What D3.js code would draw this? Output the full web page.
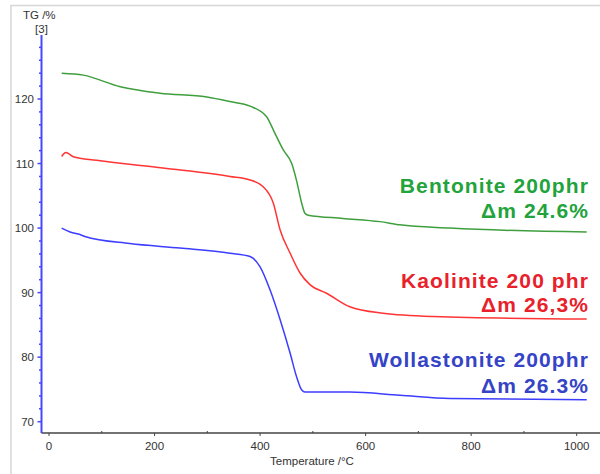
<!DOCTYPE html>
<html>
<head>
  <meta charset="UTF-8">
  <style>
    body { margin: 0; background: #fff; }
    svg { display: block; font-family: "Liberation Sans", Arial, sans-serif; }
  </style>
</head>
<body>
<svg></svg>
<script src="https://d3js.org/d3.v7.min.js"></script>
<script>

let width = 600, height = 474;

// temperature (°C) / mass (%)
let bentoniteT = [24, 65, 135, 210, 299, 343, 381, 412, 428, 444, 460, 469, 479, 485, 491, 557, 627, 665, 760, 1019];
let bentoniteM = [124.0, 123.7, 121.9, 120.9, 120.3, 119.6, 118.9, 117.3, 114.7, 112.1, 110.0, 107.4, 103.8, 102.3, 102.0, 101.5, 101.0, 100.5, 100.0, 99.4];

let kaoliniteT = [24, 32, 46, 90, 216, 343, 381, 406, 425, 438, 457, 476, 495, 526, 570, 633, 728, 1019];
let kaoliniteM = [111.1, 111.7, 111.06, 110.5, 109.3, 108.0, 107.45, 106.4, 103.9, 99.7, 96.1, 93.0, 91.2, 89.9, 87.8, 86.8, 86.3, 85.9];

let wollastoniteT = [24, 40, 62, 68, 153, 248, 343, 381, 400, 419, 438, 457, 469, 479, 485, 570, 665, 760, 1019];
let wollastoniteM = [100.0, 99.4, 98.9, 98.7, 97.6, 96.9, 96.1, 95.6, 94.0, 90.4, 85.8, 80.6, 77.0, 74.9, 74.6, 74.6, 74.1, 73.6, 73.4];

let yTicks = [70, 80, 90, 100, 110, 120];
let xTicks = [0, 200, 400, 600, 800, 1000];

let series = [
  {name: "Bentonite", T: bentoniteT, M: bentoniteM, line: "#3f9f3f", text: "#22a33c",
   label: ["Bentonite 200phr", "\u0394m 24.6%"], ly: [193, 218]},
  {name: "Kaolinite", T: kaoliniteT, M: kaoliniteM, line: "#ff3535", text: "#e8212b",
   label: ["Kaolinite 200 phr", "\u0394m 26,3%"], ly: [288, 312]},
  {name: "Wollastonite", T: wollastoniteT, M: wollastoniteM, line: "#3d3dff", text: "#3543c6",
   label: ["Wollastonite 200phr", "\u0394m 26.3%"], ly: [367, 393]}
];

let svg = d3.select("svg")
    .attr("width", width)
    .attr("height", height);

let x = d3.scaleLinear().domain([0, 1000]).range([49, 576.7]);
let y = d3.scaleLinear().domain([70, 120]).range([421.7, 99]);

let axisLeftX = 41.5, axisBottomY = 433;

// light frame
svg.append("path")
.attr("d", "M11," + height + "V5.5H" + width)
.attr("fill", "none")
.attr("stroke", "#d6d6d6")
.attr("stroke-width", 1.5);

// x axis
let xAxis = svg.append("g")
.attr("transform", "translate(0," + axisBottomY + ")");
xAxis.append("line")
.attr("x1", axisLeftX).attr("x2", width)
.attr("stroke", "#444").attr("stroke-width", 1.5);
xAxis.selectAll(".minor")
.data(d3.range(100, 1001, 200))
.enter().append("line")
.attr("x1", d => x(d)).attr("x2", d => x(d))
.attr("y1", -2).attr("y2", 0)
.attr("stroke", "#444");
xAxis.selectAll(".major")
.data(xTicks)
.enter().append("line")
.attr("x1", d => x(d)).attr("x2", d => x(d))
.attr("y1", 0).attr("y2", 3)
.attr("stroke", "#444");
xAxis.selectAll("text")
.data(xTicks)
.enter().append("text")
.attr("x", d => x(d))
.attr("y", 17)
.attr("text-anchor", "middle")
.attr("font-size", "11.5px")
.attr("fill", "#333")
.text(d => d);

svg.append("text")
.attr("x", 312)
.attr("y", 465)
.attr("text-anchor", "middle")
.attr("font-size", "11.5px")
.attr("fill", "#333")
.text("Temperature /\u00B0C");

// y axis (blue)
let yAxis = svg.append("g");
yAxis.append("line")
.attr("x1", axisLeftX).attr("x2", axisLeftX)
.attr("y1", 35).attr("y2", axisBottomY)
.attr("stroke", "#4747ff").attr("stroke-width", 2);
yAxis.selectAll(".minor")
.data(d3.range(70, 130, 2).filter(v => v % 10 != 0))
.enter().append("line")
.attr("x1", axisLeftX - 2.5).attr("x2", axisLeftX)
.attr("y1", d => y(d)).attr("y2", d => y(d))
.attr("stroke", "#4747ff").attr("stroke-width", 1.5);
yAxis.selectAll(".major")
.data(yTicks)
.enter().append("line")
.attr("x1", axisLeftX - 4).attr("x2", axisLeftX)
.attr("y1", d => y(d)).attr("y2", d => y(d))
.attr("stroke", "#4747ff").attr("stroke-width", 1.5);
yAxis.selectAll("text")
.data(yTicks)
.enter().append("text")
.attr("x", 34)
.attr("y", d => y(d) + 4)
.attr("text-anchor", "end")
.attr("font-size", "11.5px")
.attr("fill", "#333")
.text(d => d);

svg.append("text")
.attr("x", 23).attr("y", 19)
.attr("font-size", "11.5px").attr("fill", "#333")
.text("TG /%");
svg.append("text")
.attr("x", 41.5).attr("y", 33)
.attr("text-anchor", "middle")
.attr("font-size", "11.5px").attr("fill", "#333")
.text("[3]");

// curves
let line = d3.line()
.x(d => x(d[0]))
.y(d => y(d[1]))
.curve(d3.curveMonotoneX);

series.forEach(s => {
  let pts = s.T.map((t, i) => [t, s.M[i]]);
  svg.append("path")
  .datum(pts)
  .attr("fill", "none")
  .attr("stroke", s.line)
  .attr("stroke-width", 1.5)
  .attr("d", line);

  s.label.forEach((txt, i) => {
    svg.append("text")
    .attr("x", 589)
    .attr("y", s.ly[i])
    .attr("text-anchor", "end")
    .attr("font-family", "'Liberation Sans', Arial, sans-serif")
    .attr("font-weight", "bold")
    .attr("font-size", "21px")
    .attr("letter-spacing", "1.1px")
    .attr("fill", s.text)
    .text(txt);
  });
});

</script>
</body>
</html>
